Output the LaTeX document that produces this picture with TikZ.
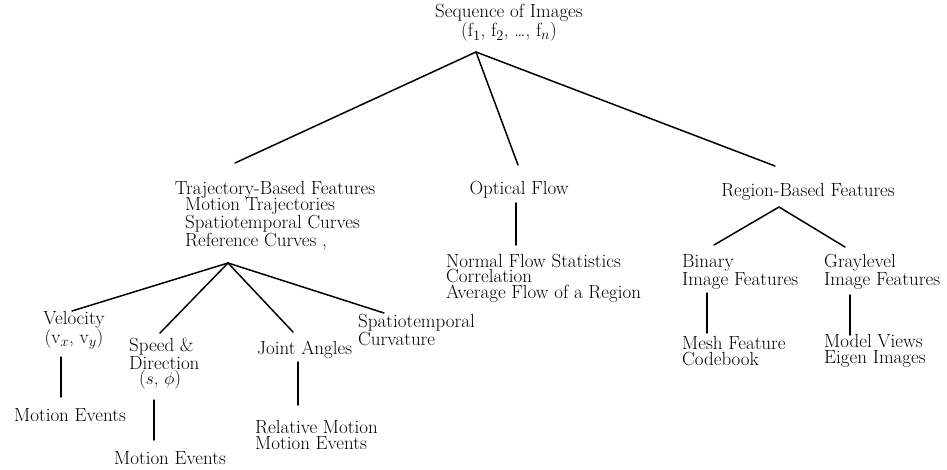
\documentclass[tikz,border=0pt]{standalone}
\usepackage{fontspec}
\begin{document}
\begin{tikzpicture}[x=1pt,y=-1pt,
  lbl/.style={inner sep=0pt, font=\fontsize{19}{15.5}\selectfont},
  lft/.style={lbl, align=left, anchor=west},
  ctr/.style={lbl, align=center},
  conn/.style={line width=1.5pt, line cap=round}]
\useasboundingbox (0,0) rectangle (947,470);
% top
\node[ctr] (seq) at (509,23) {Sequence of Images\\(f$_1$, f$_2$, \ldots, f$_n$)};
\coordinate (a0) at (476,52);
\coordinate (e1) at (235,163);
\coordinate (e2) at (518,165);
\coordinate (e3) at (775,166);
\draw[conn] (e1) -- (a0) -- (e3);
\draw[conn] (a0) -- (e2);
% trajectory branch
\node[ctr] (traj) at (275,190) {Trajectory-Based Features};
\node[lft] (trajlist) at (185,224) {Motion Trajectories\\Spatiotemporal Curves\\Reference Curves ,};
\coordinate (t0) at (228,263);
\coordinate (t1) at (72,311);
\coordinate (t2) at (160,333);
\coordinate (t3) at (293,332);
\coordinate (t4) at (384,313);
\draw[conn] (t1) -- (t0) -- (t4);
\draw[conn] (t0) -- (t2);
\draw[conn] (t0) -- (t3);
\node[ctr] (vel) at (74,330) {Velocity\\(v$_x$, v$_y$)};
\coordinate (v1a) at (61,357);
\coordinate (v1b) at (61,397);
\draw[conn] (v1a) -- (v1b);
\node[ctr] (me1) at (70,415) {Motion Events};
\node[lft] (spd) at (129,364) {Speed \&\\Direction\\\hspace*{10pt}($s$, $\phi$)};
\coordinate (v2a) at (154,400);
\coordinate (v2b) at (154,440);
\draw[conn] (v2a) -- (v2b);
\node[ctr] (me2) at (170,458) {Motion Events};
\node[lft] (joint) at (257,350) {Joint Angles};
\coordinate (v3a) at (298,362);
\coordinate (v3b) at (298,405);
\draw[conn] (v3a) -- (v3b);
\node[lft] (rel) at (255,435) {Relative Motion\\Motion Events};
\node[lft] (curv) at (358,330) {Spatiotemporal\\Curvature};
% optical flow branch
\node[ctr] (opt) at (519,190) {Optical Flow};
\coordinate (v4a) at (516,203);
\coordinate (v4b) at (516,245);
\draw[conn] (v4a) -- (v4b);
\node[lft] (optlist) at (446,278) {Normal Flow Statistics\\Correlation\\Average Flow of a Region};
% region branch
\node[ctr] (reg) at (808,192) {Region-Based Features};
\coordinate (r0) at (779,207);
\coordinate (r1) at (714,245);
\coordinate (r2) at (845,247);
\draw[conn] (r1) -- (r0) -- (r2);
\node[lft] (bin) at (682,272) {Binary\\Image Features};
\coordinate (v5a) at (707,293);
\coordinate (v5b) at (707,333);
\draw[conn] (v5a) -- (v5b);
\node[lft] (mesh) at (682,351) {Mesh Feature\\Codebook};
\node[lft] (gray) at (824,272) {Graylevel\\Image Features};
\coordinate (v6a) at (850,295);
\coordinate (v6b) at (850,335);
\draw[conn] (v6a) -- (v6b);
\node[lft] (model) at (824,351) {Model Views\\Eigen Images};
\end{tikzpicture}
\end{document}
